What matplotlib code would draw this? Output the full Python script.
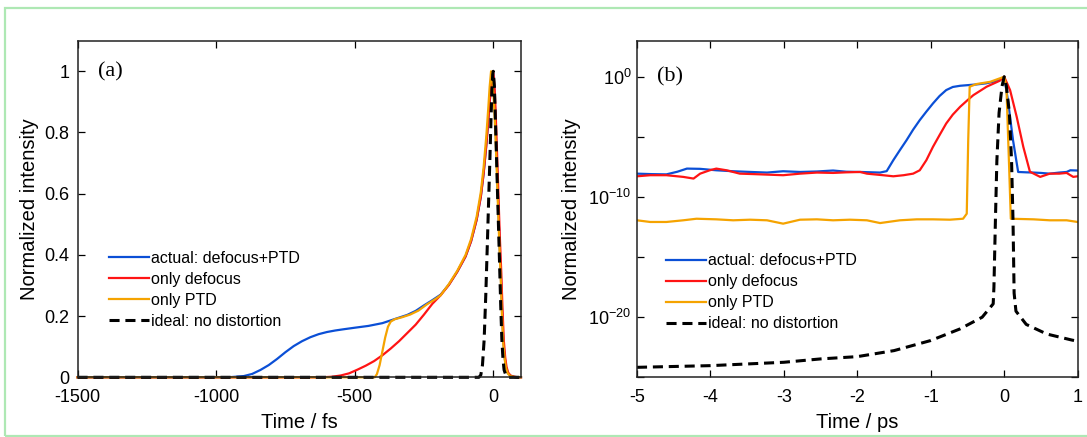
import numpy as np
import matplotlib
matplotlib.use('Agg')
import matplotlib.pyplot as plt
from matplotlib.patches import Rectangle
from matplotlib.ticker import FixedLocator, NullFormatter

plt.rcParams['font.family'] = ['Liberation Sans', 'DejaVu Sans']
plt.rcParams['axes.unicode_minus'] = False
plt.rcParams['mathtext.default'] = 'regular'

# ---- panel (a): linear scale, time in fs ----
blue_a_t = [-1500, -974, -950, -900, -870, -840, -810, -780, -750, -720, -690, -660, -630, -600,
            -570, -540, -500, -450, -400, -370, -340, -310, -280, -250, -220, -190, -160, -130,
            -100, -80, -60, -45, -35, -25, -18, -12, -7, -2, 0, 3, 6, 9, 12, 15, 18, 22, 27, 31,
            36, 41, 46, 52, 60, 70, 84, 100]
blue_a = [0, 0, 0.0005, 0.004, 0.011, 0.024, 0.04, 0.06, 0.082, 0.102, 0.118, 0.131, 0.141, 0.148,
          0.153, 0.157, 0.162, 0.168, 0.177, 0.186, 0.195, 0.204, 0.217, 0.235, 0.252, 0.27, 0.303,
          0.345, 0.395, 0.445, 0.515, 0.59, 0.665, 0.76, 0.84, 0.91, 0.96, 0.995, 0.99, 0.95,
          0.88, 0.8, 0.72, 0.64, 0.556, 0.45, 0.339, 0.23, 0.12, 0.065, 0.033, 0.015, 0.006,
          0.002, 0, 0]

red_a_t = [-1500, -620, -580, -550, -520, -490, -460, -430, -400, -370, -340, -310, -280, -250,
           -220, -190, -160, -130, -100, -80, -60, -45, -35, -25, -18, -12, -7, -1, 2, 5, 8, 11,
           14, 17, 20, 24, 29, 33, 38, 43, 48, 54, 62, 75, 90, 100]
red_a = [0, 0, 0.002, 0.006, 0.013, 0.025, 0.038, 0.053, 0.072, 0.094, 0.118, 0.145, 0.172, 0.205,
         0.24, 0.268, 0.302, 0.345, 0.395, 0.445, 0.515, 0.59, 0.665, 0.76, 0.84, 0.91, 0.96, 1.0,
         0.98, 0.94, 0.88, 0.8, 0.72, 0.64, 0.556, 0.45, 0.339, 0.23, 0.12, 0.065, 0.033, 0.015,
         0.006, 0.002, 0, 0]

orange_a_t = [-1500, -428, -420, -410, -400, -390, -380, -370, -355, -330, -300, -270, -240, -210,
              -190, -160, -130, -100, -80, -60, -45, -35, -25, -18, -13, -8, -4, 0, 3, 6, 9, 12,
              15, 18, 22, 27, 31, 36, 41, 46, 52, 60, 75, 100]
orange_a = [0, 0, 0.01, 0.04, 0.085, 0.13, 0.165, 0.182, 0.19, 0.196, 0.205, 0.218, 0.238, 0.255,
            0.268, 0.305, 0.348, 0.4, 0.452, 0.525, 0.605, 0.685, 0.79, 0.88, 0.95, 1.0, 0.97,
            0.93, 0.89, 0.83, 0.76, 0.69, 0.61, 0.53, 0.43, 0.32, 0.21, 0.11, 0.06, 0.03, 0.013,
            0.005, 0.001, 0]

ideal_a_t = [-1500, -52, -45, -39, -33, -27, -21, -16, -12, -8, -5, -2, 0, 4, 10, 16, 22, 27, 31,
             35, 39, 45, 51, 56, 100]
ideal_a = [0, 0, 0.0075, 0.04, 0.122, 0.27, 0.448, 0.6, 0.72, 0.85, 0.937, 0.99, 1.0, 0.95, 0.774,
           0.58, 0.394, 0.23, 0.122, 0.06, 0.024, 0.008, 0.002, 0, 0]

# ---- panel (b): log scale, time in ps, values as exponents of 10 ----
blue_b_t = [-5.0, -4.8, -4.6, -4.45, -4.32, -4.14, -3.92, -3.69, -3.45, -3.23, -3.01, -2.78, -2.55,
            -2.33, -2.15, -1.96, -1.8, -1.69, -1.6, -1.51, -1.42, -1.33, -1.24, -1.15, -1.06, -0.97,
            -0.88, -0.79, -0.7, -0.6, -0.5, -0.38, -0.25, -0.15, -0.05, 0.0, 0.05, 0.12, 0.19, 0.3,
            0.4, 0.5, 0.62, 0.75, 0.85, 0.9, 1.0]
blue_b = [-8.06, -8.1, -8.12, -7.9, -7.64, -7.66, -7.78, -7.86, -7.92, -7.97, -7.86, -7.92, -7.88,
          -7.8, -7.9, -7.92, -7.95, -7.97, -7.85, -6.94, -6.1, -5.28, -4.4, -3.61, -2.9, -2.22,
          -1.6, -1.11, -0.85, -0.75, -0.7, -0.64, -0.55, -0.42, -0.2, 0.0, -1.94, -5.28, -7.92,
          -7.95, -7.97, -8.0, -8.06, -7.97, -7.92, -7.78, -7.8]

red_b_t = [-5.0, -4.82, -4.6, -4.37, -4.23, -4.14, -4.01, -3.92, -3.78, -3.6, -3.4, -3.23, -3.01,
           -2.78, -2.55, -2.33, -2.15, -1.96, -1.87, -1.65, -1.51, -1.37, -1.24, -1.15, -1.06, -0.97,
           -0.88, -0.79, -0.7, -0.6, -0.5, -0.42, -0.24, -0.06, 0.0, 0.08, 0.17, 0.26, 0.35, 0.49,
           0.62, 0.75, 0.85, 0.94, 1.0]
red_b = [-8.28, -8.19, -8.19, -8.33, -8.47, -8.06, -7.78, -7.64, -7.78, -8.06, -8.1, -8.14, -8.19,
         -8.06, -7.97, -8.0, -7.95, -7.92, -8.06, -8.19, -8.28, -8.19, -8.06, -7.78, -6.94, -5.83,
         -4.85, -3.89, -3.15, -2.5, -1.95, -1.53, -0.83, -0.33, 0.0, -1.11, -3.33, -5.83, -7.9,
         -8.33, -8.06, -8.06, -8.0, -8.33, -8.28]

orange_b_t = [-5.0, -4.82, -4.6, -4.37, -4.19, -3.92, -3.69, -3.46, -3.23, -3.01, -2.78, -2.55,
              -2.33, -2.1, -1.87, -1.69, -1.42, -1.19, -0.97, -0.74, -0.56, -0.51, -0.49, -0.47,
              -0.38, -0.19, 0.0, 0.03, 0.07, 0.09, 0.4, 0.62, 0.85, 1.0]
orange_b = [-11.94, -12.08, -12.08, -11.94, -11.81, -11.86, -11.94, -11.89, -11.94, -12.22, -11.89,
            -11.86, -11.94, -11.89, -11.94, -12.17, -11.94, -11.86, -11.86, -11.89, -11.81, -11.39,
            -5.28, -0.83, -0.61, -0.42, 0.0, -0.83, -8.06, -11.81, -11.86, -11.94, -11.94, -12.08]

ideal_b_t = [-5.0, -4.0, -3.0, -2.5, -2.0, -1.5, -1.0, -0.6, -0.3, -0.15, -0.14, -0.12, -0.1, -0.07,
             -0.03, 0.0, 0.03, 0.07, 0.1, 0.12, 0.135, 0.16, 0.3, 0.58, 0.92, 1.0]
ideal_b = [-24.17, -24.03, -23.75, -23.47, -23.28, -22.78, -21.94, -20.97, -20.0, -18.89, -17.5,
           -12.0, -7.0, -3.0, -0.8, 0.0, -0.8, -3.0, -7.0, -12.0, -18.0, -19.5, -20.6, -21.4,
           -21.9, -22.0]

labels = ['actual: defocus+PTD', 'only defocus', 'only PTD', 'ideal: no distortion']
colors = ['#0b4fd6', '#ff1414', '#f5a300', 'black']
dash = (0, (3.3, 1.9))

fig = plt.figure(figsize=(10.87, 4.37), dpi=100)

# light green frame around the figure
fig.patches.append(Rectangle((0.0046, 0.003), 1.1, 0.978, transform=fig.transFigure,
                             fill=False, edgecolor='#aee8b4', linewidth=1.6))

ax1 = fig.add_axes([0.0713, 0.1366, 0.408, 0.7703])
ax2 = fig.add_axes([0.586, 0.1366, 0.4054, 0.7703])

ax1.plot(blue_a_t, blue_a, color=colors[0], lw=1.6, label=labels[0], clip_on=False)
ax1.plot(red_a_t, red_a, color=colors[1], lw=1.6, label=labels[1], clip_on=False)
ax1.plot(orange_a_t, orange_a, color=colors[2], lw=1.6, label=labels[2], clip_on=False)
ax1.plot(ideal_a_t, ideal_a, color=colors[3], lw=2.2, linestyle=dash, label=labels[3],
         clip_on=False)
ax1.set_xlim(-1500, 100)
ax1.set_ylim(0, 1.1)
ax1.set_xticks([-1500, -1000, -500, 0])
ax1.set_yticks([0, 0.2, 0.4, 0.6, 0.8, 1])
ax1.set_yticklabels(['0', '0.2', '0.4', '0.6', '0.8', '1'])
ax1.set_xlabel('Time / fs', fontsize=14.5)
ax1.set_ylabel('Normalized intensity', fontsize=14.5)
ax1.xaxis.set_label_coords(0.5, -0.105)
ax1.yaxis.set_label_coords(-0.087, 0.5)
ax1.text(0.046, 0.908, '(a)', transform=ax1.transAxes, fontsize=16,
         family='Liberation Serif', ha='left', va='center')
ax1.legend(loc='upper left', bbox_to_anchor=(0.072, 0.375), frameon=False, fontsize=11.5,
           borderpad=0, borderaxespad=0, handlelength=2.47, handletextpad=0.15,
           labelspacing=0.375)

ax2.plot(blue_b_t, 10.0 ** np.array(blue_b), color=colors[0], lw=1.6, label=labels[0])
ax2.plot(red_b_t, 10.0 ** np.array(red_b), color=colors[1], lw=1.6, label=labels[1])
ax2.plot(orange_b_t, 10.0 ** np.array(orange_b), color=colors[2], lw=1.6, label=labels[2])
ax2.plot(ideal_b_t, 10.0 ** np.array(ideal_b), color=colors[3], lw=2.2, linestyle=dash,
         label=labels[3])
ax2.set_yscale('log')
ax2.set_xlim(-5, 1)
ax2.set_ylim(1e-25, 1e3)
ax2.set_xticks([-5, -4, -3, -2, -1, 0, 1])
ax2.yaxis.set_major_locator(FixedLocator([1e-20, 1e-10, 1e0]))
ax2.set_yticklabels([r'$10^{-20}$', r'$10^{-10}$', r'$10^{0}$'])
ax2.yaxis.set_minor_locator(FixedLocator([1e-25, 1e-15, 1e-5]))
ax2.yaxis.set_minor_formatter(NullFormatter())
ax2.set_xlabel('Time / ps', fontsize=14.5)
ax2.set_ylabel('Normalized intensity', fontsize=14.5)
ax2.xaxis.set_label_coords(0.5, -0.105)
ax2.yaxis.set_label_coords(-0.127, 0.5)
ax2.text(0.045, 0.893, '(b)', transform=ax2.transAxes, fontsize=16,
         family='Liberation Serif', ha='left', va='center')
ax2.legend(loc='upper left', bbox_to_anchor=(0.066, 0.368), frameon=False, fontsize=11.5,
           borderpad=0, borderaxespad=0, handlelength=2.47, handletextpad=0.15,
           labelspacing=0.375)

for ax in (ax1, ax2):
    for s in ax.spines.values():
        s.set_linewidth(1.1)
        s.set_color('#222222')
    ax.tick_params(which='both', direction='in', top=True, right=True, length=5, width=0.9,
                   labelsize=13, pad=6)
    ax.tick_params(axis='x', pad=8.5)
ax2.tick_params(axis='y', which='both', pad=4)

fig.savefig('out.png', dpi=100)
